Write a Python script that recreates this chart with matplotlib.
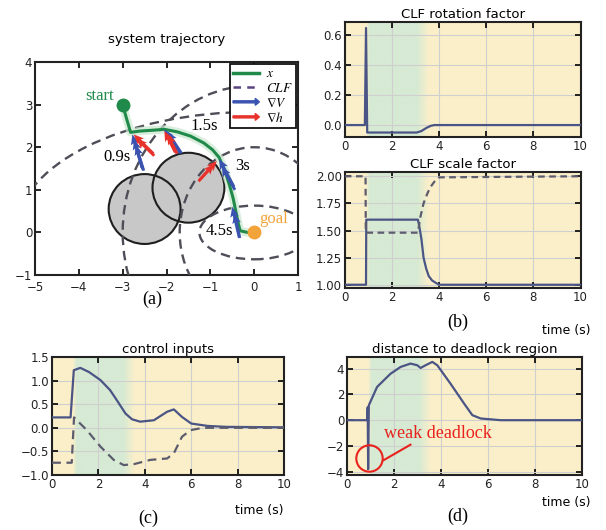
import numpy as np
import matplotlib
matplotlib.use("Agg")
import matplotlib.pyplot as plt
import matplotlib.patches as mpatches
from matplotlib.lines import Line2D
from matplotlib.legend_handler import HandlerPatch

plt.rcParams['mathtext.fontset'] = 'stix'
plt.rcParams['font.family'] = 'DejaVu Sans'

# ---- data: system trajectory ----
traj_x = [-3.0, -2.92, -2.82, -2.6, -2.3, -2.05, -1.75, -1.45, -1.15, -0.95, -0.8, -0.67, -0.56, -0.48, -0.42, -0.36, -0.32, -0.15, 0.0]
traj_y = [3.0, 2.7, 2.35, 2.38, 2.4, 2.42, 2.36, 2.26, 2.1, 1.94, 1.76, 1.45, 1.1, 0.8, 0.5, 0.2, 0.04, 0.0, 0.0]
start_pt = (-3.0, 3.0)
goal_pt = (0.0, 0.0)
obst_x = [-2.5, -1.5]
obst_y = [0.55, 1.05]
obst_r = [0.82, 0.82]
clf_a = [5.44, 3.0, 1.7, 1.25]
clf_b = [2.83, 3.45, 2.0, 0.63]
# arrow tips and vectors
gradV_x = [-2.78, -2.74, -2.7, -2.05, -1.98, -0.8, -0.74, -0.5, -0.45]
gradV_y = [2.3, 2.18, 2.05, 2.42, 2.36, 1.72, 1.55, 0.6, 0.45]
gradV_u = [-0.22, -0.2, -0.18, -0.36, -0.32, -0.34, -0.3, -0.16, -0.12]
gradV_v = [0.78, 0.7, 0.6, 0.56, 0.5, 0.65, 0.55, 0.72, 0.58]
gradh_x = [-2.75, -2.68, -2.05, -1.98, -0.85, -0.92]
gradh_y = [2.3, 2.2, 2.38, 2.3, 1.68, 1.6]
gradh_u = [-0.45, -0.4, -0.25, -0.22, 0.4, 0.35]
gradh_v = [0.45, 0.4, 0.5, 0.45, 0.45, 0.4]
traj_labels = ['0.9s', '1.5s', '3s', '4.5s']
traj_label_x = [-3.12, -1.14, -0.26, -0.8]
traj_label_y = [1.78, 2.49, 1.55, 0.04]

# ---- data: time series ----
rot_t = [0, 0.85, 0.9, 0.95, 3.05, 3.25, 3.45, 3.65, 3.8, 10]
rot_v = [0, 0, 0.65, -0.05, -0.05, -0.04, -0.02, -0.005, 0, 0]
scale_t = [0, 0.9, 0.91, 3.1, 3.15, 3.25, 3.34, 3.45, 3.56, 3.7, 3.84, 4.0, 10]
scale_v = [1.0, 1.0, 1.6, 1.6, 1.55, 1.42, 1.25, 1.15, 1.08, 1.04, 1.02, 1.0, 1.0]
scale2_t = [0, 0.88, 0.89, 3.1, 3.2, 3.34, 3.5, 3.63, 3.8, 4.0, 10]
scale2_v = [2.0, 2.0, 1.48, 1.48, 1.62, 1.75, 1.84, 1.9, 1.95, 1.99, 2.0]
u1_t = [0, 0.8, 0.94, 1.22, 1.6, 2.09, 2.5, 2.8, 3.17, 3.45, 3.8, 4.39, 4.96, 5.25, 5.6, 6.0, 6.7, 7.5, 10]
u1_v = [0.22, 0.22, 1.22, 1.27, 1.18, 1.01, 0.8, 0.58, 0.3, 0.18, 0.13, 0.16, 0.34, 0.39, 0.23, 0.09, 0.04, 0.02, 0.01]
u2_t = [0, 0.85, 0.95, 1.5, 2.09, 2.66, 3.09, 3.53, 4.24, 4.96, 5.25, 5.6, 5.97, 6.5, 10]
u2_v = [-0.74, -0.74, 0.22, -0.05, -0.4, -0.68, -0.79, -0.77, -0.68, -0.65, -0.54, -0.19, -0.05, 0.0, 0.0]
dist_t = [0, 0.86, 0.88, 0.9, 0.93, 1.28, 1.85, 2.28, 2.7, 2.99, 3.13, 3.34, 3.63, 3.84, 4.4, 4.98, 5.33, 5.69, 6.54, 10]
dist_v = [0, 0, 1.0, -3.8, 1.16, 2.58, 3.6, 4.13, 4.39, 4.26, 4.05, 4.26, 4.52, 4.26, 2.84, 1.29, 0.39, 0.13, 0.0, 0.0]
green_span = (0.9, 3.35)

yellow = '#fbefc9'
green = '#d6ead4'
line_c = '#4a5585'
dash_c = '#5c5c6e'

fig = plt.figure(figsize=(6.06, 5.30), dpi=100)


def style_axes(ax):
    ax.tick_params(direction='in', top=True, right=True, length=4, width=1.2,
                   labelsize=8.5, labelcolor='#222222', pad=2)
    for s in ax.spines.values():
        s.set_linewidth(1.5)
        s.set_color('#222222')


def time_axes(ax, ylim):
    ax.set_facecolor(yellow)
    ax.set_xlim(0, 10)
    ax.set_ylim(*ylim)
    xs = np.linspace(green_span[0], green_span[1] + 0.2, 200)
    alpha = np.interp(xs, [green_span[0], green_span[0] + 0.15, green_span[1] - 0.3, green_span[1] + 0.2], [0, 1, 1, 0])
    img = np.zeros((1, len(xs), 4))
    img[..., :3] = matplotlib.colors.to_rgb(green)
    img[0, :, 3] = alpha
    ax.imshow(img, extent=[xs[0], xs[-1], ylim[0], ylim[1]], aspect='auto', zorder=0.5)
    ax.grid(True, color='#cfcfcf', linewidth=0.8, zorder=1)
    ax.set_xticks([0, 2, 4, 6, 8, 10])
    style_axes(ax)


# ---- (a) system trajectory ----
ax = fig.add_axes([0.0578, 0.481, 0.434, 0.402])
ax.set_xlim(-5, 1)
ax.set_ylim(-1, 4)
for cx, cy, r in zip(obst_x, obst_y, obst_r):
    ax.add_patch(mpatches.Circle((cx, cy), r, facecolor='#c8c8c8', edgecolor='none', zorder=1))
for cx, cy, r in zip(obst_x, obst_y, obst_r):
    ax.add_patch(mpatches.Circle((cx, cy), r, facecolor='none', edgecolor='#1e1e1e', lw=1.5, zorder=2))
for a, b in zip(clf_a, clf_b):
    ax.add_patch(mpatches.Ellipse(goal_pt, 2 * a, 2 * b, fill=False, edgecolor='#4e4e58',
                                  linestyle=(0, (4, 2.5)), lw=1.7, zorder=3))
ax.plot(traj_x, traj_y, color='#c9e8cf', lw=6, alpha=0.7, zorder=3.5)
ax.plot(traj_x, traj_y, color='#1f8a4a', lw=2.2, zorder=4)
ax.quiver(gradV_x, gradV_y, gradV_u, gradV_v, angles='xy', scale_units='xy', scale=1, pivot='tip',
          color='#3a52b0', width=0.011, headwidth=3, headlength=3.5, headaxislength=3, zorder=5)
ax.quiver(gradh_x, gradh_y, gradh_u, gradh_v, angles='xy', scale_units='xy', scale=1, pivot='tip',
          color='#e8332c', width=0.011, headwidth=3, headlength=3.5, headaxislength=3, zorder=5)
ax.plot(*start_pt, 'o', color='#1f8a4a', ms=9, zorder=6)
ax.plot(*goal_pt, 'o', color='#f2a43a', ms=9, zorder=6)
ax.text(-3.2, 3.2, 'start', color='#1f8a4a', fontsize=12, family='Liberation Serif', ha='right', va='center')
ax.text(0.12, 0.32, 'goal', color='#f2a43a', fontsize=12, family='Liberation Serif', ha='left', va='center')
for lab, lx, ly in zip(traj_labels, traj_label_x, traj_label_y):
    ax.text(lx, ly, lab, fontsize=12, family='Liberation Serif', ha='center', va='center', zorder=7)
ax.set_xticks(range(-5, 2))
ax.set_yticks(range(-1, 5))
style_axes(ax)
ax.tick_params(axis='x', pad=4)
ax.set_title('system trajectory', fontsize=9.5, pad=14)


def make_arrow(legend, orig_handle, xdescent, ydescent, width, height, fontsize):
    return mpatches.FancyArrow(0, 0.5 * height, width, 0, length_includes_head=True,
                               head_width=0.75 * height, head_length=0.45 * height, width=0.22 * height)


handles = [Line2D([], [], color='#1f8a4a', lw=2.5),
           Line2D([], [], color='#5b4482', lw=1.8, linestyle=(0, (3, 2.5))),
           mpatches.FancyArrow(0, 0, 1, 0, color='#3a52b0'),
           mpatches.FancyArrow(0, 0, 1, 0, color='#e8332c')]
leg = ax.legend(handles, ['$x$', '$CLF$', r'$\nabla V$', r'$\nabla h$'], loc='upper right',
                fontsize=9.5, handlelength=2.0, labelspacing=0.12, borderpad=0.25, handletextpad=0.5,
                borderaxespad=0.15, fancybox=False, framealpha=1,
                handler_map={mpatches.FancyArrow: HandlerPatch(patch_func=make_arrow)})
leg.get_frame().set_edgecolor('#111111')
leg.get_frame().set_linewidth(1.3)
leg.set_zorder(10)

# ---- (b) CLF rotation factor ----
ax = fig.add_axes([0.569, 0.7415, 0.389, 0.217])
time_axes(ax, (-0.08, 0.69))
ax.plot(rot_t, rot_v, color=line_c, lw=1.6, zorder=3)
ax.set_yticks([0.0, 0.2, 0.4, 0.6])
ax.set_title('CLF rotation factor', fontsize=9.5, pad=3)

# ---- (b) CLF scale factor ----
ax = fig.add_axes([0.569, 0.4566, 0.389, 0.219])
time_axes(ax, (0.97, 2.04))
ax.plot(scale_t, scale_v, color=line_c, lw=1.6, zorder=3)
ax.plot(scale2_t, scale2_v, color=dash_c, lw=1.6, linestyle=(0, (3, 2)), zorder=3)
ax.set_yticks([1.0, 1.25, 1.5, 1.75, 2.0])
ax.set_yticklabels(['1.00', '1.25', '1.50', '1.75', '2.00'])
ax.set_title('CLF scale factor', fontsize=9.5, pad=3)

# ---- (c) control inputs ----
ax = fig.add_axes([0.0858, 0.1038, 0.383, 0.2226])
time_axes(ax, (-1.0, 1.5))
ax.plot(u1_t, u1_v, color=line_c, lw=1.6, zorder=3)
ax.plot(u2_t, u2_v, color=dash_c, lw=1.6, linestyle=(0, (4, 2.5)), zorder=3)
ax.set_yticks([-1.0, -0.5, 0.0, 0.5, 1.0, 1.5])
ax.set_title('control inputs', fontsize=9.5, pad=3)

# ---- (d) distance to deadlock region ----
ax = fig.add_axes([0.5726, 0.1038, 0.388, 0.2226])
time_axes(ax, (-4.25, 4.9))
ax.plot(dist_t, dist_v, color=line_c, lw=1.6, zorder=3)
ax.set_yticks([-4, -2, 0, 2, 4])
ax.plot([0.95], [-2.97], 'o', ms=19, mfc='none', mec='#e8221c', mew=1.5, zorder=4)
ax.plot([1.56, 2.7], [-3.1, -1.9], color='#e8221c', lw=1.5, zorder=4)
ax.text(1.56, -1.0, 'weak deadlock', color='#e8221c', fontsize=13, family='Liberation Serif',
        ha='left', va='center', zorder=5)
ax.set_title('distance to deadlock region', fontsize=9.5, pad=3)

# ---- panel labels ----
for x, y, s in [(0.251, 0.436, '(a)'), (0.756, 0.391, '(b)'), (0.245, 0.022, '(c)'), (0.756, 0.025, '(d)')]:
    fig.text(x, y, s, fontsize=13, family='Liberation Serif', ha='center', va='center')
for x, y in [(0.975, 0.377), (0.468, 0.037), (0.975, 0.051)]:
    fig.text(x, y, 'time (s)', fontsize=9, ha='right', va='center')

fig.savefig('out.png', dpi=100)
